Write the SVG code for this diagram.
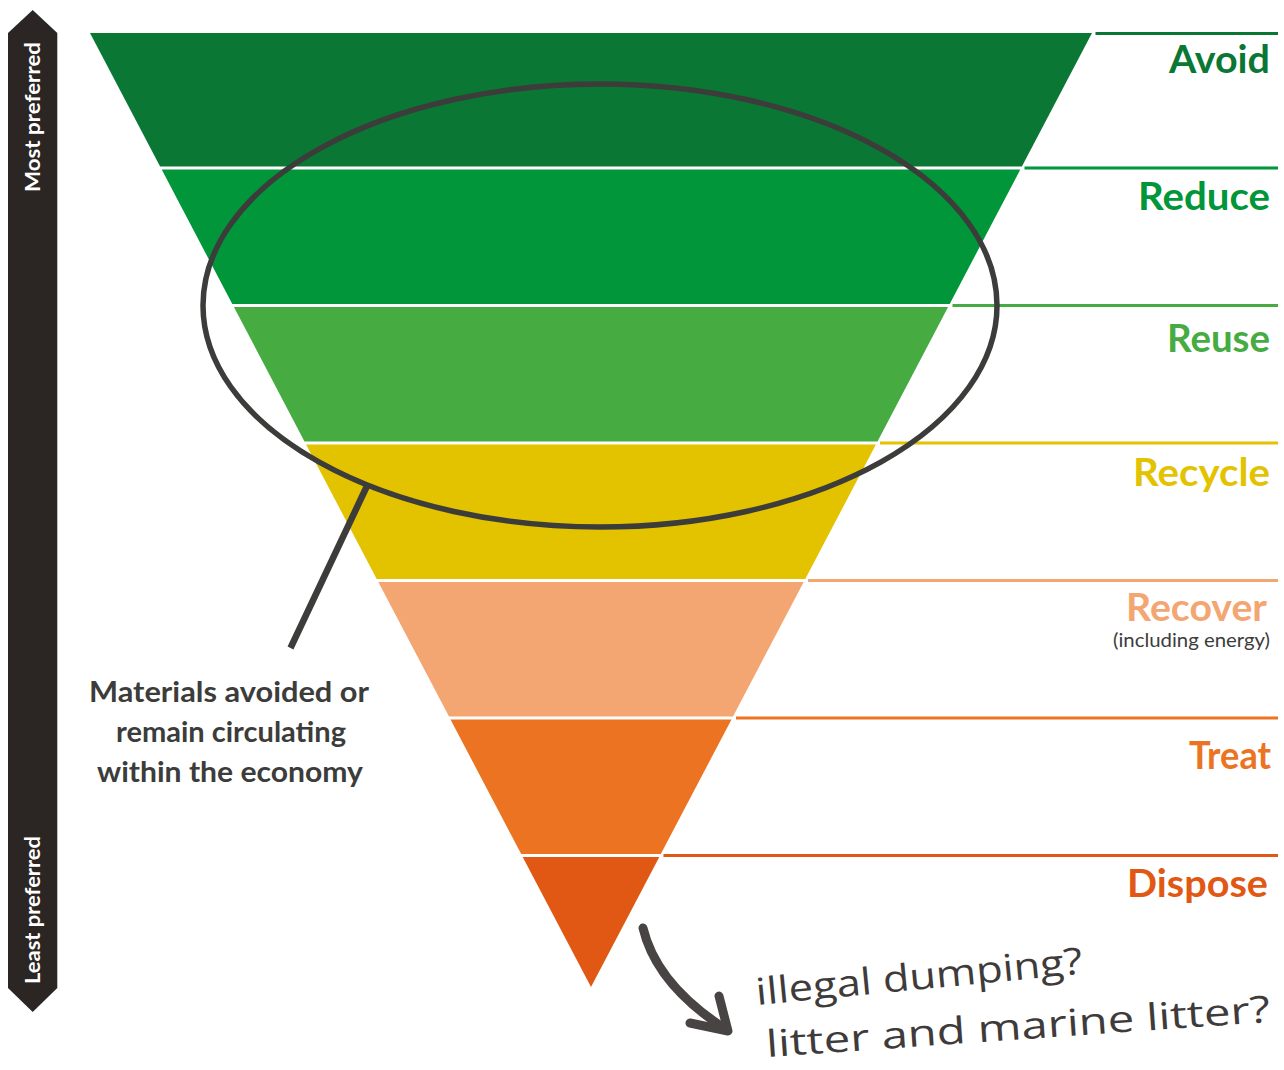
<svg xmlns="http://www.w3.org/2000/svg" width="1284" height="1070" viewBox="0 0 1284 1070">
<style>
.lbl{font-family:Lato,"Liberation Sans",sans-serif;font-weight:700;font-size:39px;text-anchor:end}
.side{font-family:Lato,"Liberation Sans",sans-serif;font-weight:700;font-size:21px;fill:#ffffff}
.note{font-family:Lato,"Liberation Sans",sans-serif;font-weight:700;font-size:28px;fill:#3c3c3b;text-anchor:middle}
.hand{font-family:"Open Sans","DejaVu Sans",sans-serif;font-weight:400;font-size:37px;fill:#3e3b3a}
.rl{stroke-width:3;fill:none}
</style>
<rect width="1284" height="1070" fill="#ffffff"/>
<g id="scale-bar">
<polygon points="8,33 32.7,10 57.3,33 57.3,988 32.7,1012 8,988" fill="#2b2624"/>
<text class="side" transform="translate(40,192) rotate(-90)" textLength="150" lengthAdjust="spacingAndGlyphs">Most preferred</text>
<text class="side" transform="translate(40,984) rotate(-90)" textLength="148" lengthAdjust="spacingAndGlyphs">Least preferred</text>
</g>
<g id="avoid">
<polygon points="90,33 1092,33 1021.9,166.5 160.1,166.5" fill="#0a7834"/>
<line class="rl" x1="1095.5" y1="33.5" x2="1278" y2="33.5" stroke="#0a7834"/>
<text class="lbl" x="1270" y="73" fill="#0a7834" textLength="101" lengthAdjust="spacingAndGlyphs">Avoid</text>
</g>
<g id="reduce">
<polygon points="161.7,169.5 1020.3,169.5 949.7,304 232.3,304" fill="#009639"/>
<line class="rl" x1="1024.5" y1="168" x2="1278" y2="168" stroke="#009639"/>
<text class="lbl" x="1270" y="210" fill="#009639" textLength="132" lengthAdjust="spacingAndGlyphs">Reduce</text>
</g>
<g id="reuse">
<polygon points="233.9,307 948.1,307 877.5,441.5 304.5,441.5" fill="#46ab41"/>
<line class="rl" x1="952.5" y1="305.5" x2="1278" y2="305.5" stroke="#46ab41"/>
<text class="lbl" x="1270" y="352" fill="#46ab41" textLength="103" lengthAdjust="spacingAndGlyphs">Reuse</text>
</g>
<g id="recycle">
<polygon points="306.1,444.5 875.9,444.5 805.3,579 376.7,579" fill="#e3c200"/>
<line class="rl" x1="880" y1="443" x2="1278" y2="443" stroke="#e3c200"/>
<text class="lbl" x="1270" y="486" fill="#e3c200" textLength="137" lengthAdjust="spacingAndGlyphs">Recycle</text>
</g>
<g id="recover">
<polygon points="378.3,582 803.7,582 733,716.5 449,716.5" fill="#f4a672"/>
<line class="rl" x1="808" y1="580.5" x2="1278" y2="580.5" stroke="#f4a672"/>
<text class="lbl" x="1267" y="621" fill="#f4a672" textLength="141" lengthAdjust="spacingAndGlyphs">Recover</text>
<text x="1270" y="647" font-family="Lato,'Liberation Sans',sans-serif" font-size="20" fill="#3c3c3b" text-anchor="end" textLength="157" lengthAdjust="spacingAndGlyphs">(including energy)</text>
</g>
<g id="treat">
<polygon points="450.5,719.5 731.5,719.5 660.8,854 521.2,854" fill="#ec7321"/>
<line class="rl" x1="736" y1="718" x2="1278" y2="718" stroke="#ec7321"/>
<text class="lbl" x="1271" y="769" fill="#ec7321" textLength="82" lengthAdjust="spacingAndGlyphs">Treat</text>
</g>
<g id="dispose">
<polygon points="522.7,857 659.3,857 591,987" fill="#e05814"/>
<line class="rl" x1="663.5" y1="855.5" x2="1278" y2="855.5" stroke="#e05814"/>
<text class="lbl" x="1268" y="897" fill="#e05814" textLength="141" lengthAdjust="spacingAndGlyphs">Dispose</text>
</g>
<g id="connectors">
<ellipse cx="600" cy="305.5" rx="397" ry="221.5" fill="none" stroke="#3c3c3b" stroke-width="5.5"/>
<line x1="367" y1="486" x2="290.5" y2="648" stroke="#3c3c3b" stroke-width="6.5"/>
<path d="M643,928 C652,966 680,1000 727,1030" fill="none" stroke="#484443" stroke-width="9" stroke-linecap="round"/>
<path d="M719,996 L728,1031 L690,1023" fill="none" stroke="#484443" stroke-width="9" stroke-linecap="round" stroke-linejoin="round"/>
</g>
<g id="note">
<text class="note" x="229" y="702" textLength="280" lengthAdjust="spacingAndGlyphs">Materials avoided or</text>
<text class="note" x="231" y="742" textLength="230" lengthAdjust="spacingAndGlyphs">remain circulating</text>
<text class="note" x="230" y="782" textLength="266" lengthAdjust="spacingAndGlyphs">within the economy</text>
</g>
<g id="handwriting">
<text class="hand" transform="translate(757,1005) rotate(-5.5)" textLength="328" lengthAdjust="spacingAndGlyphs">illegal dumping?</text>
<text class="hand" transform="translate(767,1057) rotate(-4)" textLength="505" lengthAdjust="spacingAndGlyphs">litter and marine litter?</text>
</g>
</svg>
